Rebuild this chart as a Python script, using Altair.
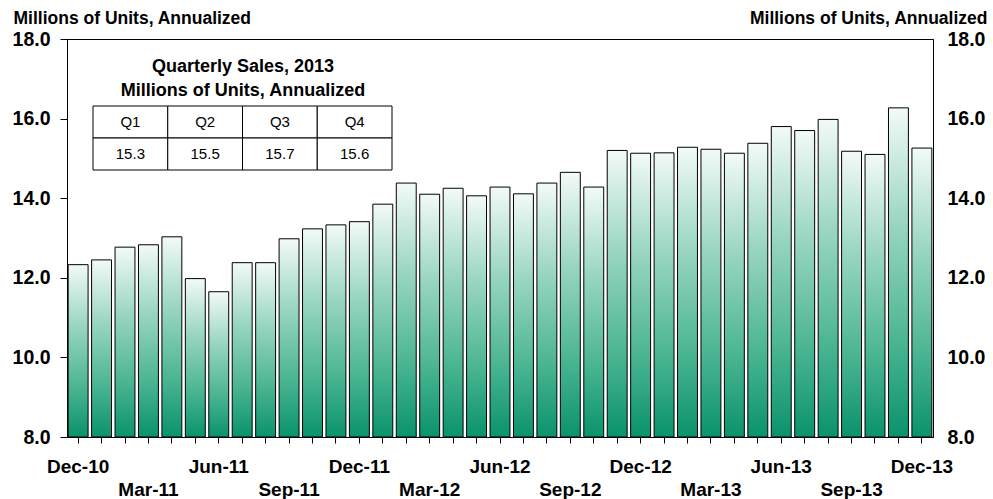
import altair as alt
import pandas as pd

months = ["Dec-10", "Jan-11", "Feb-11", "Mar-11", "Apr-11", "May-11", "Jun-11",
          "Jul-11", "Aug-11", "Sep-11", "Oct-11", "Nov-11", "Dec-11",
          "Jan-12", "Feb-12", "Mar-12", "Apr-12", "May-12", "Jun-12",
          "Jul-12", "Aug-12", "Sep-12", "Oct-12", "Nov-12", "Dec-12",
          "Jan-13", "Feb-13", "Mar-13", "Apr-13", "May-13", "Jun-13",
          "Jul-13", "Aug-13", "Sep-13", "Oct-13", "Nov-13", "Dec-13"]
sales = [12.33, 12.45, 12.77, 12.83, 13.03, 11.98, 11.65, 12.38, 12.38, 12.98,
         13.23, 13.33, 13.41, 13.85, 14.38, 14.10, 14.25, 14.06, 14.28, 14.11,
         14.38, 14.65, 14.28, 15.20, 15.13, 15.14, 15.28, 15.23, 15.13, 15.38,
         15.80, 15.70, 15.98, 15.18, 15.10, 16.27, 15.26]

quarters = ["Q1", "Q2", "Q3", "Q4"]
quarterly = ["15.3", "15.5", "15.7", "15.6"]
table_title = ["Quarterly Sales, 2013", "Millions of Units, Annualized"]
axis_title = "Millions of Units, Annualized"

df = pd.DataFrame({"month": months, "sales": sales})

cells = []
for i, q in enumerate(quarters):
    cells.append({"col": i, "row": 0, "text": q})
    cells.append({"col": i, "row": 1, "text": quarterly[i]})
tdf = pd.DataFrame(cells)

FONT = "Liberation Sans"
W, H = 866, 398

yscale = alt.Scale(domain=[8, 18], nice=False, zero=False)
xscale = alt.Scale(paddingInner=0.15, paddingOuter=0.05)

gradient = alt.Gradient(
    gradient="linear", x1=0, x2=0, y1=0, y2=1,
    stops=[alt.GradientStop(color="#f2faf7", offset=0),
           alt.GradientStop(color="#9ad6c2", offset=0.35),
           alt.GradientStop(color="#4db693", offset=0.7),
           alt.GradientStop(color="#0a936c", offset=1)])

label_expr = "test(regexp('^(Dec|Mar|Jun|Sep)'), datum.value) ? datum.value : ''"

bars = alt.Chart(df).mark_bar(fill=gradient, stroke="black", strokeWidth=1).encode(
    x=alt.X("month:N", sort=months, scale=xscale, title=None,
            axis=alt.Axis(labelExpr=label_expr, labelAngle=0, labelOverlap=False,
                          labelFont=FONT, labelFontSize=19, labelFontWeight="bold",
                          labelColor="black", labelBaseline="alphabetic",
                          labelPadding={"condition": {"test": "test(regexp('^(Mar|Sep)'), datum.value)", "value": 52},
                                        "value": 29},
                          tickSize=6, tickColor="black", domainColor="black", zindex=1)),
    y=alt.Y("sales:Q", scale=yscale, title=axis_title,
            axis=alt.Axis(values=[8, 10, 12, 14, 16, 18], format=".1f", orient="left",
                          labelFont=FONT, labelFontSize=19.5, labelFontWeight="bold",
                          labelColor="black", labelPadding=10, labelFlush=False,
                          tickSize=7, tickColor="black", domainColor="black", grid=False,
                          titleAngle=0, titleAlign="left", titleBaseline="alphabetic",
                          titleX=-54, titleY=-16, titleFont=FONT, titleFontSize=17.5,
                          titleFontWeight="bold", titleColor="black", zindex=1)),
    y2=alt.datum(8),
)

right = alt.Chart(df).mark_tick(opacity=0).encode(
    y=alt.Y("sales:Q", scale=yscale, title=axis_title,
            axis=alt.Axis(values=[8, 10, 12, 14, 16, 18], format=".1f", orient="right",
                          labelFont=FONT, labelFontSize=19.5, labelFontWeight="bold",
                          labelColor="black", labelPadding=14, labelFlush=False,
                          ticks=False, domainColor="black", grid=False,
                          titleAngle=0, titleAlign="right", titleBaseline="alphabetic",
                          titleX=54, titleY=-16, titleFont=FONT, titleFontSize=17.5,
                          titleFontWeight="bold", titleColor="black", zindex=1)),
)

main = alt.layer(bars, right).resolve_axis(y="independent")

tx = alt.Scale(domain=[0, 4], range=[26, 325], nice=False, zero=False)
ty = alt.Scale(domain=[0, 2], range=[67, 131], nice=False, zero=False)

grid = alt.Chart(tdf).transform_calculate(
    c1="datum.col + 1", r1="datum.row + 1"
).mark_rect(fill="white", stroke="black", strokeWidth=1).encode(
    x=alt.X("col:Q", scale=tx, axis=None),
    x2="c1:Q",
    y=alt.Y("row:Q", scale=ty, axis=None),
    y2="r1:Q",
)

celltext = alt.Chart(tdf).transform_calculate(
    cx="datum.col + 0.5", cy="datum.row + 0.5"
).mark_text(font=FONT, fontSize=15, color="black", baseline="middle").encode(
    x=alt.X("cx:Q", scale=tx, axis=None),
    y=alt.Y("cy:Q", scale=ty, axis=None),
    text="text:N",
)

table = alt.layer(grid, celltext)

ttitle = alt.Chart(pd.DataFrame({"a": [0]})).mark_text(
    text=table_title, font=FONT, fontSize=18, fontWeight="bold", color="black",
    align="center", baseline="alphabetic", lineHeight=24
).encode(x=alt.value(176), y=alt.value(33))

chart = alt.layer(main, table, ttitle).resolve_scale(
    x="independent", y="independent"
).properties(
    width=W, height=H,
    padding={"left": 67, "top": 39, "right": 60, "bottom": 62},
    autosize=alt.AutoSizeParams(type="none"),
    background="white",
).configure_view(stroke="black", strokeWidth=1)

chart.save("out.html", embed_options={"renderer": "svg", "actions": False})
